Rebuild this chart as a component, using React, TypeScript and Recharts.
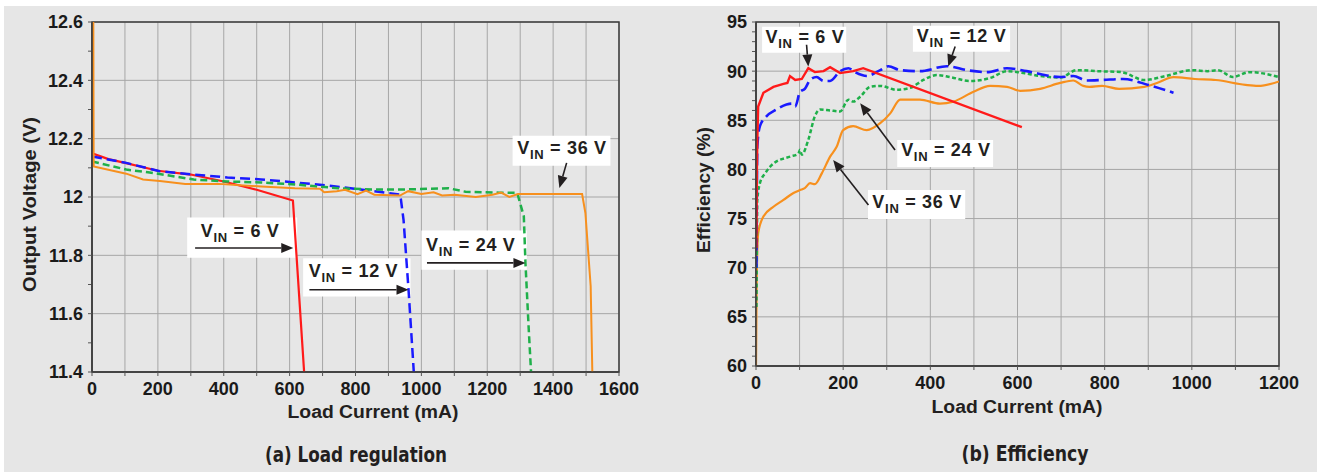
import { LineChart, Line, XAxis, YAxis, CartesianGrid, ReferenceLine, ReferenceArea, ReferenceDot } from 'recharts'

// ---- data (mA, value) ----
const REG_6V = [[0, 12.15], [50, 12.13], [100, 12.117], [200, 12.09], [300, 12.077], [400, 12.053], [500, 12.025], [610, 11.988], [644, 11.4]]
const REG_12V = [[0, 12.139], [104, 12.117], [206, 12.088], [309, 12.077], [411, 12.067], [514, 12.06], [616, 12.05], [718, 12.039], [821, 12.025], [897, 12.014], [936, 12.008], [946, 11.92], [961, 11.682], [977, 11.4]]
const REG_24V = [[0, 12.122], [104, 12.094], [170, 12.085], [309, 12.06], [411, 12.053], [514, 12.05], [616, 12.043], [748, 12.03], [850, 12.026], [952, 12.026], [1083, 12.03], [1134, 12.018], [1236, 12.015], [1291, 12.014], [1311, 11.934], [1316, 11.774], [1326, 11.545], [1333, 11.4]]
const REG_36V = [[4, 12.6], [5, 12.105], [104, 12.08], [155, 12.06], [206, 12.055], [283, 12.045], [385, 12.045], [514, 12.036], [616, 12.03], [692, 12.028], [705, 12.016], [743, 12.02], [768, 12.025], [806, 12.01], [832, 12.022], [857, 12.008], [935, 12.005], [960, 12.02], [1000, 12.01], [1037, 12.016], [1063, 12.005], [1101, 12.008], [1165, 12.0], [1216, 12.008], [1242, 12.015], [1267, 12.0], [1293, 12.01], [1488, 12.01], [1498, 11.945], [1514, 11.694], [1519, 11.4]]

const EFF_6V = [[1, 72], [2, 80], [3, 83], [5, 86.4], [17, 87.8], [40, 88.4], [63, 88.7], [72, 88.8], [78, 89.5], [90, 89.1], [105, 89.2], [120, 90.3], [135, 89.9], [155, 90.0], [170, 90.4], [193, 89.8], [223, 90.0], [246, 90.3], [610, 84.3]]
const EFF_12V = [[1, 70], [2, 78], [3, 82.3], [9, 84.4], [24, 85.4], [47, 86.1], [70, 86.6], [82, 86.7], [90, 86.4], [101, 87.9], [112, 88.2], [124, 89.1], [139, 89.4], [155, 89.0], [170, 89.0], [193, 90.0], [212, 90.3], [227, 89.9], [254, 89.5], [285, 90.1], [304, 90.5], [331, 90.1], [376, 90.0], [438, 90.5], [484, 90.1], [530, 89.9], [576, 90.3], [621, 90.0], [698, 89.4], [728, 89.5], [759, 89.05], [794, 89.1], [842, 89.2], [900, 88.6], [958, 87.8]]
const EFF_24V = [[1, 66], [2, 72], [3, 76.9], [9, 78.6], [21, 79.6], [40, 80.6], [78, 81.3], [97, 81.6], [101, 82.0], [105, 81.5], [120, 83.0], [135, 85.4], [147, 86.1], [170, 86.0], [193, 85.9], [212, 87.1], [223, 86.9], [239, 87.4], [262, 88.4], [285, 88.5], [323, 88.1], [354, 88.3], [384, 89.1], [415, 89.6], [445, 89.4], [491, 89.0], [537, 89.3], [576, 90.0], [614, 89.8], [652, 89.5], [698, 89.35], [736, 90.1], [746, 90.1], [784, 90.0], [838, 89.9], [891, 89.1], [939, 89.5], [1002, 90.1], [1036, 90.0], [1060, 90.1], [1094, 89.4], [1132, 89.9], [1200, 89.4]]
const EFF_36V = [[0, 60], [1.5, 68.4], [5, 73.5], [17, 75.2], [40, 76.2], [63, 76.9], [86, 77.6], [101, 77.9], [112, 78.1], [124, 78.6], [135, 78.5], [151, 79.6], [170, 81.3], [185, 82.3], [200, 84.0], [223, 84.4], [254, 84.0], [285, 84.7], [308, 85.7], [331, 87.1], [376, 87.1], [422, 86.7], [453, 86.9], [499, 87.9], [537, 88.5], [576, 88.4], [606, 88.0], [652, 88.2], [698, 88.8], [728, 89.05], [751, 88.5], [765, 88.4], [794, 88.5], [833, 88.2], [891, 88.4], [920, 88.8], [958, 89.4], [1007, 89.2], [1055, 89.1], [1123, 88.6], [1152, 88.5], [1200, 88.95]]

// ---- ticks ----
const REG_X_TICKS = [0, 100, 200, 300, 400, 500, 600, 700, 800, 900, 1000, 1100, 1200, 1300, 1400, 1500, 1600]
const REG_Y_TICKS = [11.4, 11.6, 11.8, 12, 12.2, 12.4, 12.6]
const REG_Y_MINOR = [11.5, 11.7, 11.9, 12.1, 12.3, 12.5]
const EFF_X_TICKS = [0, 100, 200, 300, 400, 500, 600, 700, 800, 900, 1000, 1100, 1200]
const EFF_Y_TICKS = [60, 65, 70, 75, 80, 85, 90, 95]
const EFF_Y_MINOR = Array.from({ length: 36 }, (_, i) => 60 + i).filter(v => v % 5 !== 0)

// ---- annotations: label anchor, arrow, white backing box (data coords) ----
const REG_NOTES = [
  { v: '6', tx: 330, ty: 11.863, a: [313, 11.825, 611, 11.825], box: [289, 623, 11.792, 11.93] },
  { v: '12', tx: 658, ty: 11.726, a: [660, 11.682, 961, 11.682], box: [641, 967, 11.659, 11.79] },
  { v: '24', tx: 1014, ty: 11.816, a: [1017, 11.774, 1316, 11.774], box: [1000, 1320, 11.751, 11.885] },
  { v: '36', tx: 1291, ty: 12.149, a: [1441, 12.117, 1419, 12.031], box: [1277, 1574, 12.107, 12.21] },
]
const EFF_NOTES = [
  { v: '6', tx: 22, ty: 92.86, a: [116, 92.69, 120, 90.47], box: [14, 207, 91.87, 94.52] },
  { v: '12', tx: 369, ty: 92.92, a: [457, 92.51, 441, 90.47], box: [360, 583, 91.97, 94.62] },
  { v: '24', tx: 333, ty: 81.37, a: [319, 81.98, 239, 86.74], box: [324, 544, 80.25, 83.0] },
  { v: '36', tx: 267, ty: 76.04, a: [258, 76.38, 177, 80.96], box: [257, 480, 74.95, 77.9] },
]

const FONT = "'Liberation Sans', Arial, Helvetica, sans-serif"
const NARROW = "'Liberation Sans Narrow', 'DejaVu Sans Condensed', 'Liberation Sans', sans-serif"
const INK = '#231f20'
const GRID = '#a6a6a6'
const FRAME = '#3c3c3c'

const COLORS = {
  v6: '#ff1a1a',
  v12: '#1a1aff',
  v24: '#1fb04a',
  v36: '#f7901e',
}

const toPts = (arr: number[][]) => arr.map(([x, y]) => ({ x, y }))

function VinText({ x, y, v }: { x: number; y: number; v: string }) {
  return (
    <text x={x} y={y} fontFamily={FONT} fontWeight={700} fontSize={18} letterSpacing={0.7} fill={INK}>
      V<tspan fontSize={13} dy={5}>IN</tspan>
      <tspan dy={-5}>{` = ${v} V`}</tspan>
    </text>
  )
}

function Arrow(p: any) {
  const { x1, y1, x2, y2 } = p
  const ang = Math.atan2(y2 - y1, x2 - x1)
  const len = 12
  const half = 5
  const bx = x2 - len * Math.cos(ang)
  const by = y2 - len * Math.sin(ang)
  const nx = -Math.sin(ang) * half
  const ny = Math.cos(ang) * half
  return (
    <g>
      <line x1={x1} y1={y1} x2={bx} y2={by} stroke={INK} strokeWidth={1.6} />
      <polygon points={`${x2},${y2} ${bx + nx},${by + ny} ${bx - nx},${by - ny}`} fill={INK} />
    </g>
  )
}

const MinorTick = (p: any) => <line x1={p.x1 - 4} x2={p.x1} y1={p.y1} y2={p.y2} stroke="#555" strokeWidth={1} />

const tickStyle = { fontSize: 18, fontWeight: 700, fill: '#1a1a1a', fontFamily: FONT }

function noteBoxes(list: typeof REG_NOTES) {
  return list.map((n, i) => (
    <ReferenceArea key={`b${i}`} x1={n.box[0]} x2={n.box[1]} y1={n.box[2]} y2={n.box[3]} fill="#fff" fillOpacity={1} stroke="none" ifOverflow="visible" />
  ))
}

function noteMarks(list: typeof REG_NOTES) {
  return [
    ...list.map((n, i) => (
      <ReferenceLine key={`a${i}`} segment={[{ x: n.a[0], y: n.a[1] }, { x: n.a[2], y: n.a[3] }]} ifOverflow="visible" shape={(p: any) => <Arrow {...p} />} />
    )),
    ...list.map((n, i) => (
      <ReferenceDot key={`t${i}`} x={n.tx} y={n.ty} r={0} ifOverflow="visible" shape={(p: any) => <VinText x={p.cx} y={p.cy} v={n.v} />} />
    )),
  ]
}

function RegulationChart() {
  return (
    <LineChart width={660} height={472} margin={{ top: 22, right: 41, bottom: 70, left: 52 }}>
      <CartesianGrid stroke={GRID} strokeWidth={1} />
      <XAxis type="number" dataKey="x" domain={[0, 1600]} ticks={REG_X_TICKS} interval={0} height={30}
        tickFormatter={(v) => (v % 200 === 0 ? String(v) : '')} tick={tickStyle} tickSize={4} tickMargin={6}
        axisLine={{ stroke: FRAME, strokeWidth: 1.5 }} tickLine={{ stroke: '#555' }} allowDataOverflow />
      <YAxis type="number" domain={[11.4, 12.6]} ticks={REG_Y_TICKS} interval={0} width={40}
        tick={tickStyle} tickSize={4} tickMargin={5} axisLine={{ stroke: FRAME, strokeWidth: 1.5 }} tickLine={{ stroke: '#555' }} allowDataOverflow />
      {REG_Y_MINOR.map(v => <ReferenceLine key={v} y={v} ifOverflow="visible" shape={MinorTick} />)}
      {noteBoxes(REG_NOTES)}
      <Line data={toPts(REG_6V)} dataKey="y" type="linear" stroke={COLORS.v6} strokeWidth={2.2} dot={false} isAnimationActive={false} />
      <Line data={toPts(REG_12V)} dataKey="y" type="linear" stroke={COLORS.v12} strokeWidth={2.5} strokeDasharray="10 5" dot={false} isAnimationActive={false} />
      <Line data={toPts(REG_24V)} dataKey="y" type="linear" stroke={COLORS.v24} strokeWidth={2.5} strokeDasharray="7 4" dot={false} isAnimationActive={false} />
      <Line data={toPts(REG_36V)} dataKey="y" type="linear" stroke={COLORS.v36} strokeWidth={2} dot={false} isAnimationActive={false} />
      {noteMarks(REG_NOTES)}
      <ReferenceArea x1={0} x2={1600} y1={11.4} y2={12.6} fill="none" stroke={FRAME} strokeWidth={1.5} ifOverflow="visible" />
    </LineChart>
  )
}

function EfficiencyChart() {
  return (
    <LineChart width={660} height={472} margin={{ top: 22, right: 41, bottom: 76, left: 56 }}>
      <CartesianGrid stroke={GRID} strokeWidth={1} />
      <XAxis type="number" dataKey="x" domain={[0, 1200]} ticks={EFF_X_TICKS} interval={0} height={30}
        tickFormatter={(v) => (v % 200 === 0 ? String(v) : '')} tick={tickStyle} tickSize={4} tickMargin={6}
        axisLine={{ stroke: FRAME, strokeWidth: 1.5 }} tickLine={{ stroke: '#555' }} allowDataOverflow />
      <YAxis type="number" domain={[60, 95]} ticks={EFF_Y_TICKS} interval={0} width={40}
        tick={tickStyle} tickSize={4} tickMargin={5} axisLine={{ stroke: FRAME, strokeWidth: 1.5 }} tickLine={{ stroke: '#555' }} allowDataOverflow />
      {EFF_Y_MINOR.map(v => <ReferenceLine key={v} y={v} ifOverflow="visible" shape={MinorTick} />)}
      {noteBoxes(EFF_NOTES)}
      <Line data={toPts(EFF_36V)} dataKey="y" type="monotone" stroke={COLORS.v36} strokeWidth={2.2} dot={false} isAnimationActive={false} />
      <Line data={toPts(EFF_24V)} dataKey="y" type="monotone" stroke={COLORS.v24} strokeWidth={2.5} strokeDasharray="4 2.5" dot={false} isAnimationActive={false} />
      <Line data={toPts(EFF_12V)} dataKey="y" type="monotone" stroke={COLORS.v12} strokeWidth={2.6} strokeDasharray="12 5" dot={false} isAnimationActive={false} />
      <Line data={toPts(EFF_6V)} dataKey="y" type="linear" stroke={COLORS.v6} strokeWidth={2.4} dot={false} isAnimationActive={false} />
      {noteMarks(EFF_NOTES)}
      <ReferenceArea x1={0} x2={1200} y1={60} y2={95} fill="none" stroke={FRAME} strokeWidth={1.5} ifOverflow="visible" />
    </LineChart>
  )
}

export default function App() {
  return (
    <div style={{ position: 'absolute', left: 0, top: 0, width: 1320, height: 472, background: '#fff', overflow: 'hidden' }}>
      <div style={{ position: 'absolute', left: 4, top: 6, width: 1313, height: 466, background: '#e6e6e6' }} />
      <div style={{ position: 'absolute', left: 0, top: 0 }}>
        <RegulationChart />
      </div>
      <div style={{ position: 'absolute', left: 660, top: 0 }}>
        <EfficiencyChart />
      </div>
      <svg width={1320} height={472} style={{ position: 'absolute', left: 0, top: 0, pointerEvents: 'none' }}>
        <text x={373} y={418} textAnchor="middle" fontFamily={FONT} fontWeight={700} fontSize={18} fill={INK} textLength={171} lengthAdjust="spacingAndGlyphs">Load Current (mA)</text>
        <text x={1017} y={413} textAnchor="middle" fontFamily={FONT} fontWeight={700} fontSize={18} fill={INK} textLength={171} lengthAdjust="spacingAndGlyphs">Load Current (mA)</text>
        <text transform="translate(36,204.5) rotate(-90)" textAnchor="middle" fontFamily={FONT} fontWeight={700} fontSize={18} fill={INK} textLength={175} lengthAdjust="spacingAndGlyphs">Output Voltage (V)</text>
        <text transform="translate(710,190) rotate(-90)" textAnchor="middle" fontFamily={FONT} fontWeight={700} fontSize={18} fill={INK} textLength={126} lengthAdjust="spacingAndGlyphs">Efficiency (%)</text>
        <text x={356} y={462} textAnchor="middle" fontFamily={NARROW} fontWeight={700} fontSize={21} fill={INK} textLength={182} lengthAdjust="spacingAndGlyphs">(a) Load regulation</text>
        <text x={1025} y={461} textAnchor="middle" fontFamily={NARROW} fontWeight={700} fontSize={21} fill={INK} textLength={127} lengthAdjust="spacingAndGlyphs">(b) Efficiency</text>
      </svg>
    </div>
  )
}
